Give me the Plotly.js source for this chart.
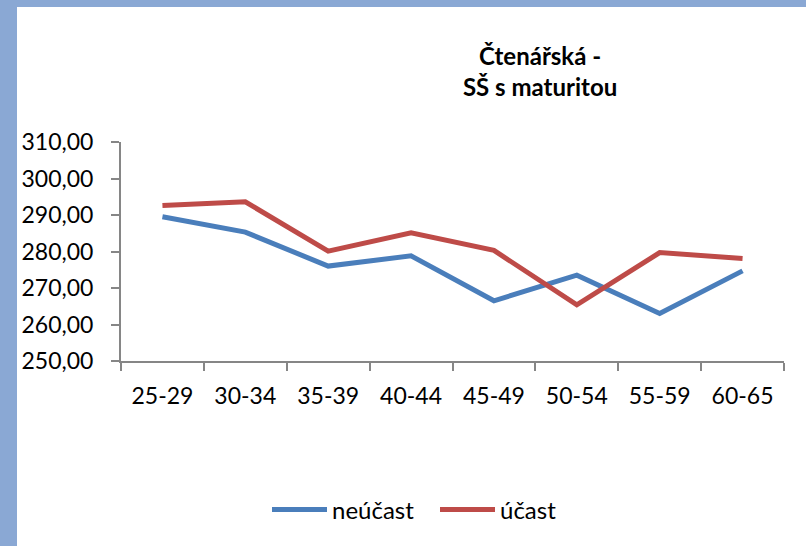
<!DOCTYPE html>
<html>
<head>
<meta charset="utf-8">
<script src="https://cdn.plot.ly/plotly-3.0.1.min.js"></script>
<style>
html,body{margin:0;padding:0;width:806px;height:546px;overflow:hidden;background:#8aa8d4;}
#chart{position:absolute;left:17px;top:7px;width:789px;height:539px;background:#fff;}
</style>
</head>
<body>
<div id="chart"></div>
<script>
var categories = ["25-29","30-34","35-39","40-44","45-49","50-54","55-59","60-65"];
var neucast = [289.5, 285.3, 276.0, 278.8, 266.5, 273.5, 263.0, 274.7];
var ucast = [292.6, 293.6, 280.1, 285.1, 280.3, 265.4, 279.7, 278.1];
var yTicks = [250, 260, 270, 280, 290, 300, 310];

var font = "Lato, 'Open Sans', sans-serif";

var traces = [
  {x: categories, y: neucast, name: "neúčast", type: "scatter", mode: "lines",
   line: {color: "#4a7ebb", width: 5}},
  {x: categories, y: ucast, name: "účast", type: "scatter", mode: "lines",
   line: {color: "#be4b48", width: 5}}
];

var layout = {
  width: 789, height: 539,
  paper_bgcolor: "#ffffff", plot_bgcolor: "#ffffff",
  separators: ", ",
  font: {family: font, size: 23, color: "#000"},
  margin: {l: 104, r: 22, t: 135, b: 185},
  title: {
    text: "<b>Čtenářská -</b><br><b>SŠ s maturitou</b>",
    font: {family: font, size: 24, color: "#000"},
    xref: "container", yref: "container",
    x: 0.663, xanchor: "center",
    y: 1 - 57.5/539, yanchor: "middle"
  },
  xaxis: {
    type: "category",
    range: [-0.5, categories.length - 0.5],
    showgrid: false, zeroline: false,
    showline: true, linecolor: "#868686", linewidth: 2,
    ticks: "outside", tickson: "boundaries", ticklen: 8, tickwidth: 2, tickcolor: "#868686",
    tickfont: {family: font, size: 23, color: "#000"},
    ticklabelstandoff: 13,
    fixedrange: true
  },
  yaxis: {
    range: [250, 310],
    tickvals: yTicks,
    tickformat: ".2f",
    showgrid: false, zeroline: false,
    showline: true, linecolor: "#868686", linewidth: 2,
    ticks: "outside", ticklen: 8, tickwidth: 2, tickcolor: "#868686",
    tickfont: {family: font, size: 23, color: "#000"},
    ticklabelstandoff: 13,
    fixedrange: true
  },
  showlegend: true,
  legend: {
    orientation: "h",
    xref: "container", yref: "container",
    x: 250/789, xanchor: "left",
    y: 1 - 503/539, yanchor: "middle",
    font: {family: font, size: 24, color: "#000"},
    itemwidth: 55,
    entrywidth: 98,
    tracegroupgap: 0
  }
};

Plotly.newPlot("chart", traces, layout, {displayModeBar: false, staticPlot: true});
</script>
</body>
</html>
